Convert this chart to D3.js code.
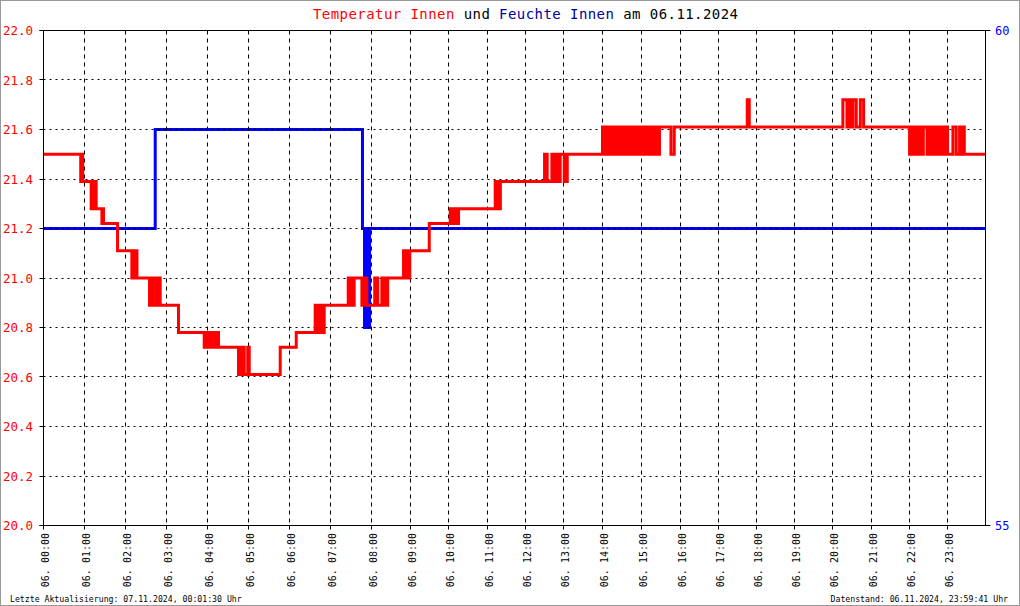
<!DOCTYPE html>
<html><head><meta charset="utf-8">
<script src="https://cdn.jsdelivr.net/npm/d3@7"></script>
<style>
body{margin:0;background:#fff}
svg{display:block}
text{font-family:"DejaVu Sans Mono",monospace}
</style>
</head><body>
<script>
// ---- data (x in logger sample index, 0..1000 for the whole day) ----
const hourLabels = ["06. 00:00","06. 01:00","06. 02:00","06. 03:00","06. 04:00","06. 05:00","06. 06:00","06. 07:00","06. 08:00","06. 09:00","06. 10:00","06. 11:00","06. 12:00","06. 13:00","06. 14:00","06. 15:00","06. 16:00","06. 17:00","06. 18:00","06. 19:00","06. 20:00","06. 21:00","06. 22:00","06. 23:00"];
const hourIdx = [0,43.5,87.3,130.6,174.1,217.6,261.1,304.6,348.2,389.6,429.9,471.3,511.7,552.0,593.4,634.8,676.2,716.6,757.3,797.7,837.8,879.0,919.3,959.7];
const tempTicks = [20.0,20.2,20.4,20.6,20.8,21.0,21.2,21.4,21.6,21.8,22.0];
const humTicks = [55,60];
const sampleCount = 1000;

const tempSeries = [
 [0,21.5],[39.5,21.39],[40.6,21.5],[41.6,21.39],
 [50.6,21.28],[51.7,21.39],[53.3,21.28],[54.9,21.39],[55.9,21.28],
 [62.0,21.22],[62.8,21.28],[63.7,21.22],
 [78.6,21.11],
 [93.8,21.0],[95.2,21.11],[96.8,21.0],[97.9,21.11],[99.2,21.0],
 [112.5,20.89],[114.3,21.0],[117.5,20.89],[119.1,21.0],[120.7,20.89],[122.3,21.0],[123.9,20.89],
 [143.3,20.78],
 [170.6,20.72],[172.2,20.78],[173.8,20.72],[175.4,20.78],[177.0,20.72],[178.6,20.78],[180.2,20.72],[181.8,20.78],[183.3,20.72],[184.9,20.78],[185.8,20.72],
 [207.0,20.61],[208.3,20.72],[209.9,20.61],[211.5,20.72],[213.1,20.61],
 [216.8,20.72],[218.4,20.61],
 [251.3,20.72],
 [268.3,20.78],
 [288.4,20.89],[290.0,20.78],[291.6,20.89],[293.2,20.78],[294.8,20.89],[296.4,20.78],[298.0,20.89],
 [323.5,21.0],[325.1,20.89],[326.7,21.0],[328.2,20.89],[329.8,21.0],
 [338.0,20.89],[339.4,21.0],[341.0,20.89],[342.6,21.0],[343.3,20.89],
 [351.6,21.0],[354.8,20.89],
 [359.2,21.0],[360.6,20.89],[362.2,21.0],[363.8,20.89],[365.4,21.0],[367.3,21.0],
 [382.2,21.11],[384.0,21.0],[385.6,21.11],[387.2,21.0],[388.8,21.11],
 [409.5,21.22],
 [431.8,21.28],[433.4,21.22],[435.0,21.28],[436.6,21.22],[438.2,21.28],[439.7,21.22],[440.6,21.28],
 [479.5,21.39],[481.1,21.28],[482.7,21.39],[484.3,21.28],[485.0,21.39],
 [531.9,21.5],[534.7,21.39],
 [539.7,21.5],[541.1,21.39],[542.7,21.5],[544.3,21.39],[545.9,21.5],[547.5,21.39],[548.5,21.5],
 [552.8,21.39],[556.0,21.5],
 [593.4,21.61],[595.0,21.5],[596.2,21.61],[597.3,21.5],[599.4,21.61],[600.5,21.5],[601.6,21.61],[603.2,21.5],[604.3,21.61],[606.0,21.5],
 [607.1,21.61],[608.7,21.5],[609.8,21.61],[611.5,21.5],[612.6,21.61],[614.3,21.5],[615.4,21.61],[617.0,21.5],[618.1,21.61],[619.8,21.5],
 [620.9,21.61],[622.5,21.5],[623.6,21.61],[625.3,21.5],[626.4,21.61],[628.0,21.5],[629.1,21.61],[630.8,21.5],[631.9,21.61],[633.5,21.5],
 [634.6,21.61],[636.3,21.5],[637.4,21.61],[639.0,21.5],[640.1,21.61],[641.8,21.5],[642.9,21.61],[644.5,21.5],[645.6,21.61],[647.3,21.5],
 [648.4,21.61],[650.0,21.5],[651.1,21.61],[652.8,21.5],[653.9,21.61],
 [666.1,21.5],[669.6,21.61],
 [747.1,21.72],[749.2,21.61],
 [848.6,21.72],[852.9,21.61],[854.6,21.72],[856.4,21.61],[857.0,21.72],[858.2,21.61],[859.3,21.72],[862.8,21.61],[867.1,21.72],[870.6,21.61],
 [919.4,21.5],[920.5,21.61],[922.1,21.5],[923.2,21.61],[924.8,21.5],[925.9,21.61],[927.5,21.5],[928.6,21.61],[930.2,21.5],[931.3,21.61],
 [932.9,21.5],[934.0,21.61],[938.0,21.5],[939.1,21.61],[940.7,21.5],[941.8,21.61],[943.4,21.5],[944.5,21.61],[946.1,21.5],[947.2,21.61],
 [948.8,21.5],[949.9,21.61],[951.5,21.5],[952.6,21.61],[954.2,21.5],[955.3,21.61],[956.9,21.5],[958.0,21.61],[959.7,21.5],
 [965.4,21.61],[968.9,21.5],[972.5,21.61],[974.3,21.5],[975.4,21.61],[977.5,21.5],
 [1000,21.5]
];
const humSeries = [
 [0,58],[118.6,59],[338.6,58],[340.8,57],[342.0,58],[343.1,57],[344.2,58],[345.2,57],[346.1,58],[1000,58]
];

(function draw(){
const W = 1020, H = 606;
const mL = 43.5, mR = 985.5, mT = 30.5, mB = 525.5;

const svg = d3.select("body").append("svg").attr("width", W).attr("height", H);
svg.append("rect").attr("x",0.5).attr("y",0.5).attr("width",W-1).attr("height",H-1)
  .attr("fill","#fff").attr("stroke","#999").attr("stroke-width",1);

const x = d3.scaleLinear().domain([0, sampleCount]).range([mL, mR]);
const yT = d3.scaleLinear().domain([20, 22]).range([mB, mT]);
const yH = d3.scaleLinear().domain([55, 60]).range([mB, mT]);
const px = v => Math.round(x(v) - 0.5) + 0.5;
const py = v => Math.round(yT(v) - 0.5) + 0.5;

// humidity line (beneath grid)
svg.append("path").datum(humSeries)
  .attr("fill","none").attr("stroke","#0000ff").attr("stroke-width",3)
  .attr("d", d3.line().x(d=>x(d[0])).y(d=>yH(d[1])).curve(d3.curveStepAfter));

// grid
const g = svg.append("g");
g.selectAll(".hg").data(tempTicks.slice(1, -1)).enter().append("line")
  .attr("x1", mL).attr("x2", mR)
  .attr("y1", d=>py(d)).attr("y2", d=>py(d))
  .attr("stroke","#000").attr("stroke-width",1).attr("stroke-dasharray","2,4");
g.selectAll(".vg").data(hourIdx.slice(1)).enter().append("line")
  .attr("x1", d=>px(d)).attr("x2", d=>px(d))
  .attr("y1", mT).attr("y2", mB)
  .attr("stroke","#000").attr("stroke-width",1).attr("stroke-dasharray","4,4");

// temperature line
svg.append("path").datum(tempSeries)
  .attr("fill","none").attr("stroke","#ff0000").attr("stroke-width",3)
  .attr("d", d3.line().x(d=>x(d[0])).y(d=>yT(d[1])).curve(d3.curveStepAfter));

// frame
svg.append("line").attr("x1",mL).attr("x2",mL).attr("y1",mT).attr("y2",mB).attr("stroke","#000");
svg.append("line").attr("x1",mR).attr("x2",mR).attr("y1",mT).attr("y2",mB).attr("stroke","#000");
svg.append("line").attr("x1",mL-4).attr("x2",mR+5).attr("y1",mT).attr("y2",mT).attr("stroke","#000");
svg.append("line").attr("x1",mL-4).attr("x2",mR+5).attr("y1",mB).attr("y2",mB).attr("stroke","#000");

// left axis ticks + labels
svg.selectAll(".lt").data(tempTicks).enter().append("line")
  .attr("x1", mL-4).attr("x2", mL)
  .attr("y1", d=>py(d)).attr("y2", d=>py(d))
  .attr("stroke","#000");
svg.selectAll(".ll").data(tempTicks).enter().append("text")
  .attr("x", 33).attr("y", d=>yT(d)+4.5)
  .attr("text-anchor","end").attr("fill","#ff0000").attr("font-size","12.5px")
  .text(d=>d3.format(".1f")(d));

// right axis labels
svg.selectAll(".rl").data(humTicks).enter().append("text")
  .attr("x", 995).attr("y", d=>yH(d)+4.5)
  .attr("fill","#0000ff").attr("font-size","12px")
  .text(d=>d);

// x ticks + labels
svg.selectAll(".xt").data(hourIdx).enter().append("line")
  .attr("x1", d=>px(d)).attr("x2", d=>px(d)).attr("y1", mB).attr("y2", mB+4)
  .attr("stroke","#000");
svg.selectAll(".xl").data(hourIdx).enter().append("text")
  .attr("transform", d=>`translate(${px(d)+5},533) rotate(-90)`)
  .attr("text-anchor","end").attr("fill","#000").attr("font-size","10px")
  .text((d,i)=>hourLabels[i]);

// title
const t = svg.append("text").attr("x", 313).attr("y", 18.5).attr("font-size","14px")
  .attr("textLength", 425).attr("lengthAdjust","spacing").style("white-space","pre");
const parts = [["Temperatur Innen","#ff0000"],[" und ","#000"],["Feuchte Innen","#000099"],[" am 06.11.2024","#000"]];
parts.forEach(p => t.append("tspan").attr("fill", p[1]).text(p[0]));

// footer
svg.append("text").attr("x",10).attr("y",601.5).attr("font-size","8.2px").attr("fill","#000")
  .text("Letzte Aktualisierung: 07.11.2024, 00:01:30 Uhr");
svg.append("text").attr("x",1008).attr("y",601.5).attr("font-size","8.2px").attr("fill","#000")
  .attr("text-anchor","end")
  .text("Datenstand: 06.11.2024, 23:59:41 Uhr");
})();
</script>
</body></html>
